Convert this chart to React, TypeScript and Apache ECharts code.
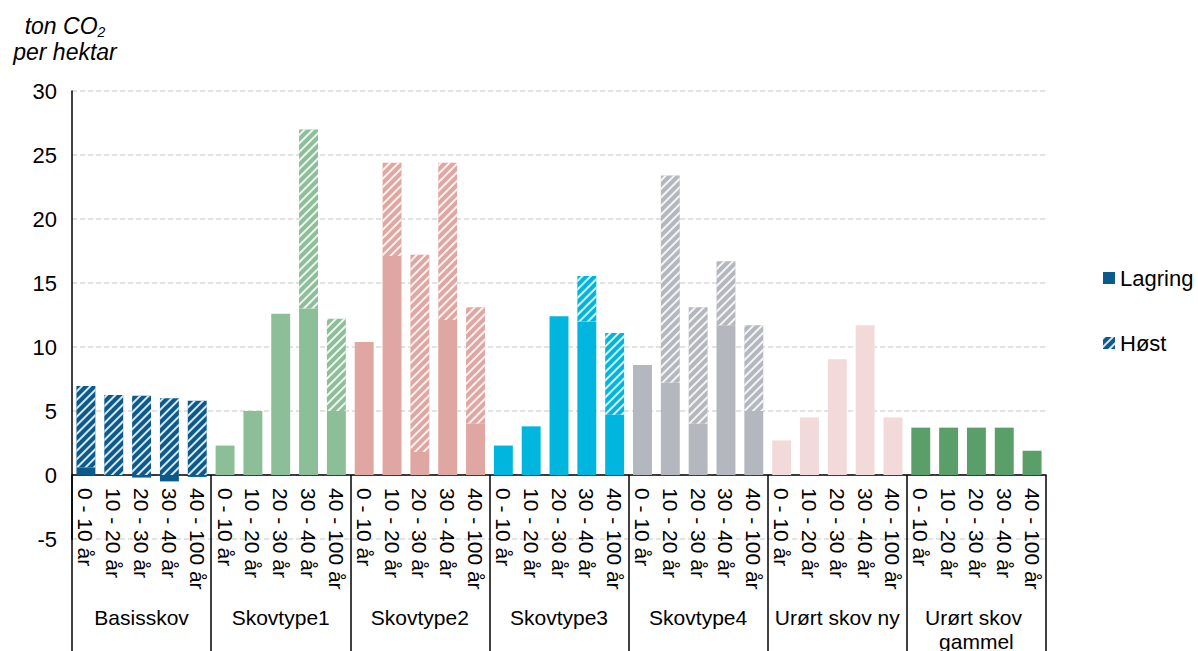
import React, { useEffect, useRef } from "react";
import * as echarts from "echarts";

const groups = ["Basisskov", "Skovtype1", "Skovtype2", "Skovtype3", "Skovtype4", "Urørt skov ny", "Urørt skov gammel"];
const ageClasses = ["0 - 10 år", "10 - 20 år", "20 - 30 år", "30 - 40 år", "40 - 100 år"];
const groupColors = ["#0B5A8C", "#8CBE98", "#E0A6A1", "#00B5DE", "#B4B7BE", "#F2DADA", "#5A9E6A"];

const lagring = [
  0.6, 0, -0.2, -0.5, -0.15,
  2.3, 5.0, 12.6, 13.0, 5.0,
  10.4, 17.1, 1.8, 12.1, 4.0,
  2.3, 3.8, 12.4, 12.0, 4.7,
  8.6, 7.2, 4.0, 11.7, 5.0,
  2.7, 4.5, 9.05, 11.7, 4.5,
  3.7, 3.7, 3.7, 3.7, 1.9,
];
const host = [
  6.35, 6.25, 6.2, 6.0, 5.8,
  0, 0, 0, 14.0, 7.2,
  0, 7.3, 15.4, 12.3, 9.1,
  0, 0, 0, 3.55, 6.4,
  0, 16.2, 9.1, 5.0, 6.7,
  0, 0, 0, 0, 0,
  0, 0, 0, 0, 0,
];
const yTicks = { min: -5, max: 30, interval: 5 };

const FONT = "'Liberation Sans', Arial, sans-serif";

export default function App() {
  const ref = useRef<HTMLDivElement>(null);
  useEffect(() => {
    if (!ref.current) return;
    const chart = echarts.init(ref.current, null, { renderer: "svg" });
    const categories: string[] = [];
    groups.forEach(() => ageClasses.forEach((a) => categories.push(a)));
    const colorOf = (i: number) => groupColors[Math.floor(i / ageClasses.length)];
    const decal = {
      symbol: "rect",
      symbolSize: 1,
      dashArrayX: [1, 0],
      dashArrayY: [1.5, 4],
      rotation: -Math.PI / 4,
      color: "rgba(255,255,255,0.85)",
    };
    chart.setOption({
      animation: false,
      textStyle: { fontFamily: FONT },
      grid: { left: 72, right: 152, top: 91, bottom: 112, containLabel: false, outerBoundsMode: "none" },
      legend: {
        orient: "vertical",
        left: 1098,
        top: 262,
        itemWidth: 12,
        itemHeight: 12,
        itemGap: 43,
        icon: "rect",
        textStyle: { fontSize: 22, color: "#000", fontFamily: FONT },
        data: ["Lagring", "Høst"],
      },
      xAxis: [
        {
          type: "category",
          data: categories,
          axisLine: { onZero: true, lineStyle: { color: "#000", width: 1.5 } },
          axisTick: {
            show: true,
            interval: (i: number) => i % 5 === 0,
            length: 200,
            lineStyle: { color: "#000", width: 1.5 },
          },
          axisLabel: {
            interval: 0,
            rotate: -90,
            margin: -51,
            fontSize: 21,
            color: "#000",
            fontFamily: FONT,
          },
        },
        {
          type: "category",
          data: groups,
          position: "bottom",
          axisLine: { show: false, onZero: false },
          axisTick: { show: false },
          axisLabel: {
            interval: 0,
            margin: 66,
            fontSize: 21,
            lineHeight: 24,
            color: "#000",
            width: 134,
            overflow: "break",
            fontFamily: FONT,
          },
        },
      ],
      yAxis: {
        type: "value",
        min: yTicks.min,
        max: yTicks.max,
        interval: yTicks.interval,
        axisLine: { show: true, lineStyle: { color: "#000", width: 1.5 } },
        axisTick: { show: false },
        axisLabel: { fontSize: 22, color: "#000", margin: 15, fontFamily: FONT },
        splitLine: { lineStyle: { color: "#D9D9D9", type: [5, 3], width: 1.5 } },
      },
      graphic: [
        {
          type: "text",
          x: 65,
          y: 13,
          style: {
            text: "{i|ton CO}{s|2}\n{i|per hektar}",
            align: "center",
            rich: {
              i: { fontSize: 23, fontStyle: "italic", fontFamily: FONT, lineHeight: 26, fill: "#000" },
              s: { fontSize: 14, fontStyle: "italic", fontFamily: FONT, lineHeight: 12, verticalAlign: "bottom", fill: "#000" },
            },
          },
        },
      ],
      series: [
        {
          name: "Lagring",
          type: "bar",
          stack: "total",
          barCategoryGap: "32%",
          itemStyle: { color: groupColors[0] },
          data: lagring.map((v, i) => ({ value: v, itemStyle: { color: colorOf(i) } })),
        },
        {
          name: "Høst",
          type: "bar",
          stack: "total",
          barCategoryGap: "32%",
          itemStyle: { color: groupColors[0], decal },
          data: host.map((v, i) => ({ value: v === 0 ? "-" : v, itemStyle: { color: colorOf(i), decal } })),
        },
      ],
    });
    return () => chart.dispose();
  }, []);
  return <div ref={ref} style={{ position: "absolute", left: 0, top: 0, width: 1198, height: 651 }} />;
}
